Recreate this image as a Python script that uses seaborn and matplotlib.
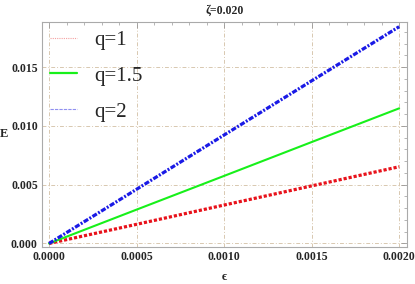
import numpy as np
import pandas as pd
import seaborn as sns
import matplotlib
matplotlib.use("Agg")
import matplotlib.pyplot as plt
from matplotlib.ticker import MultipleLocator, FormatStrFormatter
from matplotlib.lines import Line2D

eps = [0.0, 0.0005, 0.0010, 0.0015, 0.0020]
E_q1 = [0.0, 0.00163, 0.00327, 0.0049, 0.00653]
E_q15 = [0.0, 0.00288, 0.00575, 0.00863, 0.0115]
E_q2 = [0.0, 0.00461, 0.00923, 0.01384, 0.01845]
labels = ["q=1", "q=1.5", "q=2"]

df = pd.DataFrame({
    "eps": eps * 3,
    "E": E_q1 + E_q15 + E_q2,
    "q": [labels[0]] * 5 + [labels[1]] * 5 + [labels[2]] * 5,
})

sns.set_style("white")
plt.rcParams["font.family"] = ["Liberation Serif", "DejaVu Serif"]

fig = plt.figure(figsize=(4.15, 2.84), dpi=100)
ax = fig.add_axes([42/415, 1-247/284, 365/415, 225/284])

palette = {"q=1": "#e8121b", "q=1.5": "#17f01a", "q=2": "#1a1ae6"}
sns.lineplot(data=df, x="eps", y="E", hue="q", palette=palette, ax=ax, legend=False)
styles = [(0, (1.0, 0.6)), "-", (0, (1.6, 0.5, 0.6, 0.5))]
widths = [2.3, 1.5, 2.3]
for line, ls, lw in zip(ax.lines, styles, widths):
    line.set_linestyle(ls)
    line.set_linewidth(lw)
    line.set_dash_capstyle("butt")

ax.set_xlim(-0.00004, 0.002045)
ax.set_ylim(-0.0003, 0.01885)
ax.xaxis.set_major_locator(MultipleLocator(0.0005))
ax.xaxis.set_minor_locator(MultipleLocator(0.0001))
ax.yaxis.set_major_locator(MultipleLocator(0.005))
ax.yaxis.set_minor_locator(MultipleLocator(0.001))
ax.xaxis.set_major_formatter(FormatStrFormatter("%.4f"))
ax.yaxis.set_major_formatter(FormatStrFormatter("%.3f"))
ax.grid(True, which="major", color="#d8c8b0", linestyle=(0, (4, 2, 1, 2)), linewidth=0.7)
ax.tick_params(which="both", direction="in", top=True, right=True, color="#999999",
               labelsize=8.5, pad=3)
ax.tick_params(which="major", length=4, width=0.6)
ax.tick_params(which="minor", length=2, width=0.5)
for lab in ax.get_xticklabels() + ax.get_yticklabels():
    lab.set_fontweight("bold")
for s in ax.spines.values():
    s.set_color("#aaaaaa")
    s.set_linewidth(0.8)

ax.set_xlabel("ϵ", fontsize=9, fontweight="bold", va="center")
ax.xaxis.set_label_coords(182/365, -30/225)
ax.set_ylabel("E", fontsize=9, fontweight="bold", rotation=0, va="center")
ax.yaxis.set_label_coords(-0.105, 0.5)
ax.set_title("ζ=0.020", fontsize=8.5, fontweight="bold", pad=6)

handles = [
    Line2D([], [], color="#f4a0a0", linestyle=(0, (1, 1)), linewidth=0.8),
    Line2D([], [], color="#17f01a", linestyle="-", linewidth=1.6),
    Line2D([], [], color="#9090f0", linestyle=(0, (3, 1)), linewidth=0.8),
]
ax.legend(handles, labels, loc="upper left", frameon=False, fontsize=15,
          handlelength=1.3, labelspacing=0.78, borderaxespad=0.0, handletextpad=0.8)

fig.savefig("out.png", dpi=100)
